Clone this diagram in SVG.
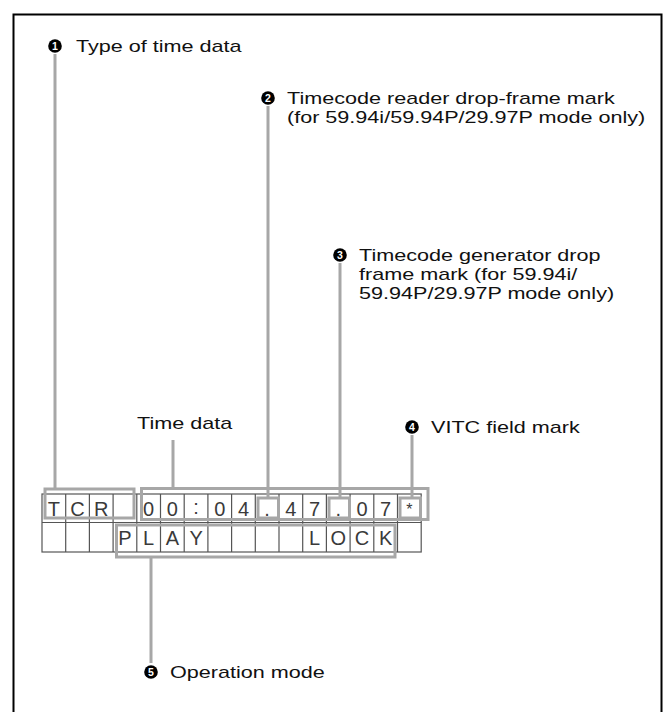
<svg xmlns="http://www.w3.org/2000/svg" width="664" height="712" viewBox="0 0 664 712">
<style>
.lbl{font-family:"Liberation Sans",Arial,sans-serif;font-size:17px;fill:#111}
.num{font-family:"Liberation Sans",Arial,sans-serif;font-size:10.5px;font-weight:bold;fill:#fff;text-anchor:middle}
.cell{font-family:"Liberation Sans",Arial,sans-serif;font-size:20px;fill:#3a3a3a;text-anchor:middle}
.grid{fill:none;stroke:#555;stroke-width:1.2}
.br{fill:none;stroke:#a7a7a7;stroke-width:3}
.ln{fill:none;stroke:#a7a7a7;stroke-width:3}
</style>
<rect x="0" y="0" width="664" height="712" fill="#fff"/>
<path d="M13.5,712 V14.5 H661.5 V712" fill="none" stroke="#000" stroke-width="2"/>

<g id="callout-1">
<circle cx="55" cy="46" r="6.8" fill="#000"/><text class="num" x="55" y="49.7">1</text>
<text class="lbl" transform="translate(76,52) scale(1.27,1)">Type of time data</text>
</g>
<g id="callout-2">
<circle cx="268" cy="98" r="6.8" fill="#000"/><text class="num" x="268" y="101.7">2</text>
<text class="lbl" transform="translate(287,104) scale(1.27,1)">Timecode reader drop-frame mark</text>
<text class="lbl" transform="translate(287,123) scale(1.27,1)">(for 59.94i/59.94P/29.97P mode only)</text>
</g>
<g id="callout-3">
<circle cx="340" cy="255" r="6.8" fill="#000"/><text class="num" x="340" y="258.7">3</text>
<text class="lbl" transform="translate(359,261) scale(1.27,1)">Timecode generator drop</text>
<text class="lbl" transform="translate(359,280) scale(1.27,1)">frame mark (for 59.94i/</text>
<text class="lbl" transform="translate(359,299) scale(1.27,1)">59.94P/29.97P mode only)</text>
</g>
<g id="time-data-label">
<text class="lbl" transform="translate(137,429) scale(1.27,1)">Time data</text>
</g>
<g id="callout-4">
<circle cx="412" cy="427" r="6.8" fill="#000"/><text class="num" x="412" y="430.7">4</text>
<text class="lbl" transform="translate(431,433) scale(1.27,1)">VITC field mark</text>
</g>
<g id="callout-5">
<circle cx="151" cy="672" r="6.8" fill="#000"/><text class="num" x="151" y="675.7">5</text>
<text class="lbl" transform="translate(170,678) scale(1.27,1)">Operation mode</text>
</g>

<g id="display">
<rect class="grid" x="42" y="494" width="379.2" height="58"/>
<path class="grid" d="M42,522.5 H421.2 M65.7,494 V552 M89.4,494 V552 M113.1,494 V552 M136.8,494 V552 M160.5,494 V552 M184.2,494 V552 M207.9,494 V552 M231.6,494 V552 M255.3,494 V552 M279,494 V552 M302.7,494 V552 M326.4,494 V552 M350.1,494 V552 M373.8,494 V552 M397.5,494 V552"/>
<g class="cell">
<text x="53.85" y="515.5">T</text><text x="77.55" y="515.5">C</text><text x="101.25" y="515.5">R</text>
<text x="148.65" y="515.5">0</text><text x="172.35" y="515.5">0</text><text x="196.05" y="514">:</text><text x="219.75" y="515.5">0</text><text x="243.45" y="515.5">4</text>
<text x="267.15" y="515.5">.</text><text x="290.85" y="515.5">4</text><text x="314.55" y="515.5">7</text><text x="338.25" y="515.5">.</text><text x="361.95" y="515.5">0</text><text x="385.65" y="515.5">7</text>
<text x="409.35" y="515" style="font-size:16px">*</text>
<text x="124.95" y="544.5">P</text><text x="148.65" y="544.5">L</text><text x="172.35" y="544.5">A</text><text x="196.05" y="544.5">Y</text>
<text x="314.55" y="544.5">L</text><text x="338.25" y="544.5">O</text><text x="361.95" y="544.5">C</text><text x="385.65" y="544.5">K</text>
</g>
</g>

<g id="brackets">
<rect class="br" x="45" y="489" width="89" height="29"/>
<rect class="br" x="141.5" y="488.5" width="286.5" height="31"/>
<rect class="br" x="258" y="498" width="20.5" height="20"/>
<rect class="br" x="329" y="498" width="20.5" height="20"/>
<rect class="br" x="400" y="498" width="20.5" height="20"/>
<rect class="br" x="116.5" y="525" width="278.5" height="32"/>
</g>

<g id="connectors">
<path class="ln" d="M55,54 V489"/>
<path class="ln" d="M268,106 V498"/>
<path class="ln" d="M340,263 V498"/>
<path class="ln" d="M173,440 V488.5"/>
<path class="ln" d="M412,435 V498"/>
<path class="ln" d="M151,557 V663"/>
</g>
</svg>
